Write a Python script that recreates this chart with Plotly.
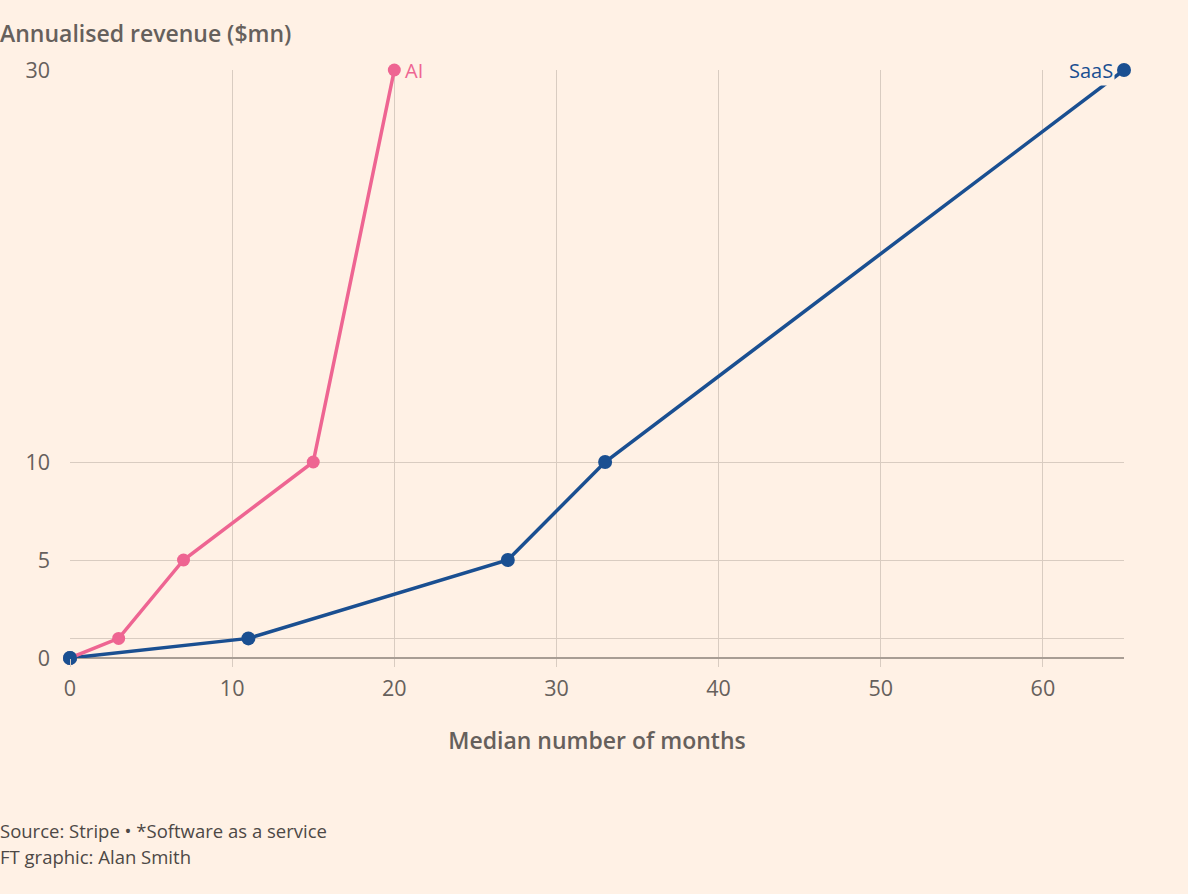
import plotly.graph_objects as go

ai_months = [0, 3, 7, 15, 20]
ai_revenue = [0, 1, 5, 10, 30]
saas_months = [0, 11, 27, 33, 65]
saas_revenue = [0, 1, 5, 10, 30]

y_tickvals = [0, 1, 5, 10, 30]
y_ticktext = ["0", "", "5", "10", "30"]
x_tickvals = [0, 10, 20, 30, 40, 50, 60]

BG = "#FFF1E5"
GRID = "#D9CCC1"
TEXT = "#66605C"
PINK = "#EE6592"
BLUE = "#1A4F91"
FONT = "Open Sans, Lato, sans-serif"

fig = go.Figure()
fig.add_trace(go.Scatter(x=saas_months, y=saas_revenue, mode="lines+markers",
                         line=dict(color=BLUE, width=3.5), marker=dict(size=14, color=BLUE),
                         cliponaxis=False, name="SaaS", showlegend=False))
fig.add_trace(go.Scatter(x=ai_months, y=ai_revenue, mode="lines+markers",
                         line=dict(color=PINK, width=3.5), marker=dict(size=13, color=PINK),
                         cliponaxis=False, name="AI", showlegend=False))
fig.add_trace(go.Scatter(x=saas_months[:1], y=saas_revenue[:1], mode="markers",
                         marker=dict(size=14, color=BLUE), cliponaxis=False, showlegend=False))

annotations = [
    dict(x=ai_months[-1], y=ai_revenue[-1], text="AI", showarrow=False,
         xanchor="left", xshift=9, font=dict(color=PINK, size=20, family=FONT), bgcolor=BG),
    dict(x=saas_months[-1], y=saas_revenue[-1], text="SaaS", showarrow=False,
         xanchor="right", xshift=-9, font=dict(color=BLUE, size=20, family=FONT), bgcolor=BG),
    dict(x=0, y=1, xref="paper", yref="paper", text="Annualised revenue ($mn)",
         showarrow=False, xanchor="left", yanchor="middle", xshift=-72, yshift=37,
         font=dict(size=23, color=TEXT, family=FONT, weight=600)),
    dict(x=0, y=0, xref="paper", yref="paper", xshift=-72, yshift=-172,
         text="Source: Stripe • *Software as a service",
         showarrow=False, xanchor="left", yanchor="middle", align="left",
         font=dict(size=18.5, color="#4D4845", family=FONT)),
    dict(x=0, y=0, xref="paper", yref="paper", xshift=-72, yshift=-198,
         text="FT graphic: Alan Smith",
         showarrow=False, xanchor="left", yanchor="middle", align="left",
         font=dict(size=18.5, color="#4D4845", family=FONT)),
]

fig.update_layout(
    width=1188, height=894,
    paper_bgcolor=BG, plot_bgcolor=BG,
    margin=dict(l=70, r=64, t=70, b=236),
    font=dict(family=FONT, color=TEXT, size=21),
    xaxis=dict(range=[0, 65], tickvals=x_tickvals, showgrid=True, gridcolor=GRID, gridwidth=1,
               zeroline=False, ticks="outside", ticklen=8, tickcolor=GRID,
               title=dict(text="Median number of months",
                          font=dict(size=23, color=TEXT, weight=600), standoff=32),
               tickfont=dict(size=21.5, color=TEXT), showline=False, ticklabelstandoff=3),
    yaxis=dict(range=[0, 30], tickvals=y_tickvals, ticktext=y_ticktext, showgrid=True,
               gridcolor=GRID, gridwidth=1, zeroline=True, zerolinecolor="#A89D94", zerolinewidth=2,
               ticks="", tickfont=dict(size=21.5, color=TEXT), ticklabelstandoff=19),
    annotations=annotations,
)

fig.write_html("out.html", config={"displayModeBar": False},
               post_script="document.body.style.margin='0';")
